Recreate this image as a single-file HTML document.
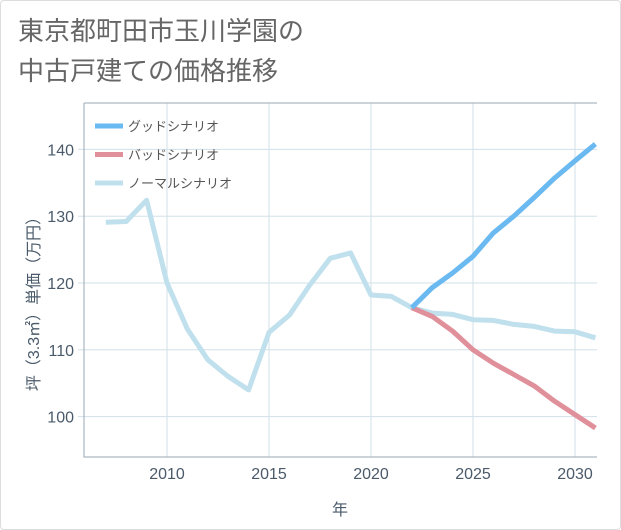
<!DOCTYPE html>
<html><head><meta charset="utf-8"><style>
body{margin:0;background:#fff;}
#wrap{position:relative;width:619px;height:528px;border:1px solid #ddd;border-radius:4px;background:#fff;overflow:hidden;}
.t{font-family:"Liberation Sans","Noto Sans CJK JP",sans-serif;}
</style></head><body>
<div id="wrap">
<div class="t" style="position:absolute;left:17px;top:10px;font-size:26px;line-height:40px;color:#666;">東京都町田市玉川学園の<br>中古戸建ての価格推移</div>
<svg id="c" width="621" height="530" style="position:absolute;left:-1px;top:-1px;"></svg>
</div>
<script>
const years=[2007,2008,2009,2010,2011,2012,2013,2014,2015,2016,2017,2018,2019,2020,2021,2022,2023,2024,2025,2026,2027,2028,2029,2030,2031];
const normal=[129.1,129.2,132.4,120,113.1,108.5,106,104,112.6,115.2,119.7,123.7,124.5,118.2,118,116.3,115.5,115.3,114.5,114.4,113.8,113.5,112.8,112.7,111.8];
const goodYears=[2022,2023,2024,2025,2026,2027,2028,2029,2030,2031];
const good=[116.3,119.3,121.5,124,127.5,130,132.8,135.7,138.3,140.8];
const bad=[116.3,115,112.8,110,108,106.3,104.6,102.3,100.3,98.3];
const xTicks=[2010,2015,2020,2025,2030];
const yTicks=[100,110,120,130,140];
const PL=84,PR=597,PT=103,PB=457;
const xs=v=>167+(v-2010)*20.4;
const ys=v=>283-(v-120)*6.68;
const NS='http://www.w3.org/2000/svg';
const svgEl=document.getElementById('c');
function mk(tag,attrs,parent){const e=document.createElementNS(NS,tag);for(const k in attrs)e.setAttribute(k,attrs[k]);(parent||svgEl).appendChild(e);return e;}
const grid=mk('g',{});


xTicks.forEach(v=>{const l=mk('line',{x1:xs(v),x2:xs(v),y1:PT,y2:PB,stroke:'#d3e0ea','stroke-width':1},grid);


const t=mk('text',{x:xs(v),y:PB+22,'text-anchor':'middle','font-size':16,fill:'#4a5a6a',class:'t'});t.textContent=v;

});
yTicks.forEach(v=>{const l=mk('line',{x1:PL-6,x2:PR,y1:ys(v),y2:ys(v),stroke:'#d3e0ea','stroke-width':1},grid);


const t=mk('text',{x:PL-10,y:ys(v)+6,'text-anchor':'end','font-size':16,fill:'#4a5a6a',class:'t'});t.textContent=v;

});
const axEl=mk('path',{d:`M${PL},${PT}V${PB}H${PR}`,fill:'none',stroke:'#9aa8b4','stroke-width':1});


const plotTop=mk('line',{x1:PL,x2:PR,y1:PT,y2:PT,stroke:'#9aa8b4','stroke-width':1});


function drawLine(xv,vs,color,name){const d=vs.map((v,i)=>(i?'L':'M')+xs(xv[i]).toFixed(1)+','+ys(v).toFixed(1)).join('');
const p=mk('path',{d,fill:'none',stroke:color,'stroke-width':5,'stroke-linejoin':'round'});

}
drawLine(years,normal,'#bfe0ec','normal-scenario-line');
drawLine(goodYears,bad,'#e0909a','bad-scenario-line');
drawLine(goodYears,good,'#6ab9f0','good-scenario-line');
const leg=[['グッドシナリオ','#6ab9f0'],['バッドシナリオ','#e0909a'],['ノーマルシナリオ','#bfe0ec']];
leg.forEach((e,i)=>{const yy=126+i*28.5;
const l=mk('line',{x1:95,x2:123,y1:yy,y2:yy,stroke:e[1],'stroke-width':5});


const t=mk('text',{x:128,y:yy+5,'font-size':13,fill:'#555',class:'t'});t.textContent=e[0];

});
const xt=mk('text',{x:340,y:515,'text-anchor':'middle','font-size':16,fill:'#4a5a6a',class:'t'});xt.textContent='年';


const yt=mk('text',{x:0,y:0,'text-anchor':'middle','font-size':16,fill:'#4a5a6a',class:'t',transform:'translate(39,300) rotate(-90)'});yt.textContent='坪（3.3㎡）単価（万円）';


</script>
</body></html>
